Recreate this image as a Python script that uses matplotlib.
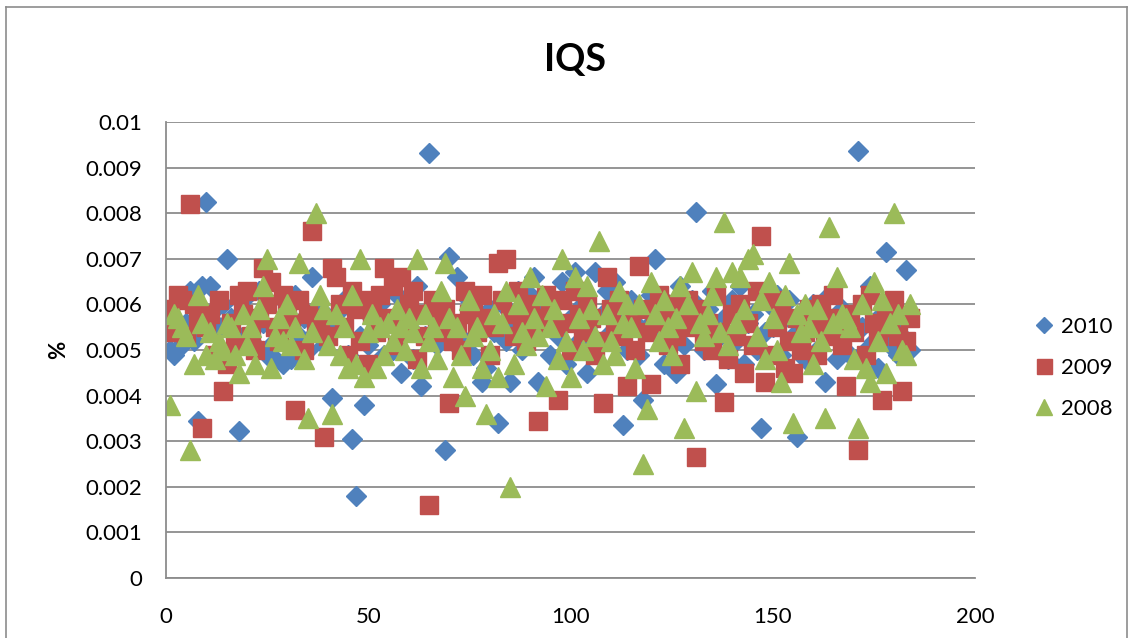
import numpy as np
import matplotlib
matplotlib.use("Agg")
import matplotlib.pyplot as plt
from matplotlib.lines import Line2D

plt.rcParams['font.family'] = ['Lato', 'DejaVu Sans']

iqs_2010 = [
    0.0050, 0.0049, 0.0053, 0.0051, 0.0056, 0.0063, 0.0052, 0.00345, 0.0064, 0.00825,
    0.0064, 0.0059, 0.0055, 0.0060, 0.0070, 0.0057, 0.0054, 0.00323, 0.0061, 0.0058,
    0.0052, 0.0050, 0.0063, 0.0056, 0.0049, 0.0051, 0.0048, 0.0055, 0.0047, 0.0060,
    0.0048, 0.0062, 0.0053, 0.0057, 0.0050, 0.0066, 0.0054, 0.0059, 0.0051, 0.0056,
    0.00395, 0.0058, 0.0055, 0.0061, 0.0049, 0.00305, 0.0018, 0.0053, 0.0038, 0.0051,
    0.0057, 0.0054, 0.0060, 0.0049, 0.0056, 0.0050, 0.0062, 0.0045, 0.0059, 0.0055,
    0.0048, 0.0064, 0.0042, 0.0053, 0.00932, 0.0058, 0.0051, 0.0056, 0.0028, 0.00705,
    0.0055, 0.0066, 0.0050, 0.0052, 0.0061, 0.0049, 0.0057, 0.0043, 0.0046, 0.0059,
    0.0054, 0.0034, 0.0060, 0.0052, 0.0043, 0.0056, 0.0063, 0.0050, 0.0058, 0.0062,
    0.0066, 0.0043, 0.0055, 0.0059, 0.0049, 0.0061, 0.0053, 0.0065, 0.0047, 0.0057,
    0.0067, 0.0052, 0.0060, 0.0045, 0.0056, 0.0067, 0.0051, 0.0058, 0.0063, 0.0054,
    0.0065, 0.0059, 0.00335, 0.0050, 0.0061, 0.0056, 0.0049, 0.0039, 0.0055, 0.0062,
    0.0070, 0.0053, 0.0047, 0.0060, 0.0058, 0.0045, 0.0064, 0.0051, 0.0057, 0.0061,
    0.00803, 0.0055, 0.0050, 0.0059, 0.0063, 0.00425, 0.0053, 0.0057, 0.0048, 0.0061,
    0.0052, 0.0064, 0.0047, 0.0056, 0.0058, 0.0050, 0.00328, 0.0054, 0.0060, 0.0055,
    0.0062, 0.0049, 0.0057, 0.0061, 0.0053, 0.0031, 0.0058, 0.0048, 0.0055, 0.0060,
    0.0050, 0.0057, 0.0043, 0.0062, 0.0054, 0.0048, 0.0059, 0.0053, 0.0049, 0.0056,
    0.00937, 0.0055, 0.0050, 0.0064, 0.0052, 0.0046, 0.0058, 0.00715, 0.0051, 0.0055,
    0.0049, 0.0053, 0.00675, 0.0050,
]
iqs_2009 = [
    0.0059, 0.0054, 0.0062, 0.0061, 0.0053, 0.0082, 0.0060, 0.0057, 0.0033, 0.0055,
    0.0058, 0.0049, 0.0061, 0.0041, 0.0047, 0.0056, 0.0051, 0.0062, 0.0058, 0.0063,
    0.0053, 0.0050, 0.0057, 0.0068, 0.0060, 0.0065, 0.0055, 0.0052, 0.0062, 0.0059,
    0.0056, 0.00368, 0.0061, 0.0050, 0.0058, 0.0076, 0.0054, 0.0057, 0.0031, 0.0053,
    0.0068, 0.0066, 0.0060, 0.0055, 0.0049, 0.0063, 0.0059, 0.0052, 0.0061, 0.0047,
    0.0058, 0.0054, 0.0062, 0.0068, 0.0057, 0.0064, 0.0051, 0.0066, 0.0055, 0.0060,
    0.0063, 0.0048, 0.0058, 0.0053, 0.0016, 0.0061, 0.0057, 0.0054, 0.0059, 0.00383,
    0.0052, 0.0056, 0.0050, 0.0063, 0.0058, 0.0060, 0.0054, 0.0062, 0.0057, 0.0049,
    0.0055, 0.0069, 0.0061, 0.0070, 0.0058, 0.0053, 0.0063, 0.0056, 0.0052, 0.0060,
    0.0054, 0.00345, 0.0057, 0.0062, 0.0059, 0.0055, 0.0039, 0.0061, 0.0056, 0.0050,
    0.0063, 0.0058, 0.0054, 0.0060, 0.0057, 0.0049, 0.0052, 0.00383, 0.0066, 0.0059,
    0.0055, 0.0061, 0.0053, 0.0042, 0.0057, 0.0050, 0.00685, 0.0059, 0.0054, 0.00425,
    0.0058, 0.0062, 0.0056, 0.0051, 0.0060, 0.0053, 0.0047, 0.0057, 0.0061, 0.0055,
    0.00265, 0.0059, 0.0052, 0.0056, 0.0050, 0.0062, 0.0054, 0.00385, 0.0048, 0.0058,
    0.0053, 0.0060, 0.0045, 0.0056, 0.0051, 0.0063, 0.0075, 0.0043, 0.0049, 0.0061,
    0.0055, 0.0058, 0.0046, 0.0052, 0.0045, 0.0057, 0.0050, 0.0054, 0.0059, 0.0056,
    0.0049, 0.0060, 0.0053, 0.0057, 0.0062, 0.0055, 0.0051, 0.0042, 0.0058, 0.0054,
    0.0028, 0.0060, 0.0049, 0.0062, 0.0056, 0.0053, 0.0039, 0.0059, 0.0055, 0.0061,
    0.0053, 0.0041, 0.0052, 0.0057,
]
iqs_2008 = [
    0.0038, 0.0058, 0.0057, 0.0055, 0.0053, 0.0028, 0.0047, 0.0062, 0.0056, 0.0049,
    0.0054, 0.0048, 0.0052, 0.0050, 0.0056, 0.0055, 0.0049, 0.0045, 0.0058, 0.0051,
    0.0055, 0.0047, 0.0059, 0.0064, 0.0070, 0.0046, 0.0053, 0.0057, 0.0052, 0.0060,
    0.0051, 0.0055, 0.0069, 0.0048, 0.0035, 0.0054, 0.0080, 0.0062, 0.0059, 0.0051,
    0.0036, 0.0058, 0.0049, 0.0055, 0.0046, 0.0062, 0.0047, 0.0070, 0.0044, 0.0054,
    0.0058, 0.0046, 0.0055, 0.0049, 0.0056, 0.0052, 0.0059, 0.0055, 0.0050, 0.0057,
    0.0054, 0.0070, 0.0046, 0.0058, 0.0052, 0.0055, 0.0048, 0.0063, 0.0069, 0.0057,
    0.0044, 0.0055, 0.0049, 0.0040, 0.0061, 0.0053, 0.0055, 0.0046, 0.0036, 0.0050,
    0.0058, 0.0044, 0.0056, 0.0063, 0.0020, 0.0047, 0.0060, 0.0054, 0.0051, 0.0066,
    0.0057, 0.0053, 0.0062, 0.0042, 0.0055, 0.0059, 0.0048, 0.0070, 0.0052, 0.0044,
    0.0066, 0.0057, 0.0050, 0.0064, 0.0059, 0.0053, 0.0074, 0.0047, 0.0058, 0.0052,
    0.0049, 0.0063, 0.0056, 0.0060, 0.0055, 0.0046, 0.0060, 0.0025, 0.0037, 0.0065,
    0.0058, 0.0052, 0.0061, 0.0055, 0.0049, 0.0057, 0.0064, 0.0033, 0.0060, 0.0067,
    0.0041, 0.0056, 0.0053, 0.0058, 0.0062, 0.0066, 0.0054, 0.0078, 0.0051, 0.0067,
    0.0056, 0.0066, 0.0059, 0.0070, 0.0071, 0.0053, 0.0061, 0.0048, 0.0065, 0.0057,
    0.0050, 0.0043, 0.0062, 0.0069, 0.0034, 0.0058, 0.0054, 0.0060, 0.0055, 0.0047,
    0.0059, 0.0052, 0.0035, 0.0077, 0.0056, 0.0066, 0.0058, 0.0057, 0.0055, 0.0048,
    0.0033, 0.0060, 0.0046, 0.0043, 0.0065, 0.0052, 0.0061, 0.0045, 0.0056, 0.0080,
    0.0058, 0.0050, 0.0049, 0.0060,
]
obs = np.arange(1, len(iqs_2010) + 1)

series = [
    ("2010", iqs_2010, "D", 10.5, "#4F81BD"),
    ("2009", iqs_2009, "s", 13.5, "#C0504D"),
    ("2008", iqs_2008, "^", 14.5, "#9BBB59"),
]

fig = plt.figure(figsize=(11.34, 6.38), dpi=100)
ax = fig.add_axes([166 / 1134, 60 / 638, (975 - 166) / 1134, (578 - 122) / 638])

for name, vals, mk, ms, col in series:
    ax.plot(obs, vals, linestyle="none", marker=mk, markersize=ms,
            color=col, markeredgecolor=col, label=name)

ax.set_xlim(0, 200)
ax.set_ylim(0, 0.01)
ax.set_xticks([0, 50, 100, 150, 200])
ax.set_yticks(np.arange(0, 0.0101, 0.001))
ax.set_yticklabels(["0", "0.001", "0.002", "0.003", "0.004", "0.005",
                    "0.006", "0.007", "0.008", "0.009", "0.01"])
ax.tick_params(axis="both", length=0, labelsize=16)
ax.tick_params(axis="x", pad=21)
ax.tick_params(axis="y", pad=17)
ax.yaxis.grid(True, color="#8c8c8c", linewidth=1.3)
ax.set_axisbelow(True)
for s in ["top", "right"]:
    ax.spines[s].set_visible(False)
for s in ["left", "bottom"]:
    ax.spines[s].set_color("#8c8c8c")
    ax.spines[s].set_linewidth(1.3)

ax.set_ylabel("%", fontsize=16, fontweight="bold", labelpad=12)
fig.text(575 / 1134, 1 - 60 / 638, "IQS", fontsize=27, fontweight="bold",
         ha="center", va="center")

handles = [Line2D([], [], linestyle="none", marker=mk, color=col,
                  markersize=ms * 0.8, label=name)
           for name, vals, mk, ms, col in series]
fig.legend(handles=handles, loc="center left",
           bbox_to_anchor=(1011 / 1134, 1 - 368 / 638), frameon=False,
           fontsize=16, handletextpad=0.15, labelspacing=0.95, handlelength=1.2)

# chart area border
border = dict(color="#8c8c8c", linewidth=1.2, transform=fig.transFigure)
fig.add_artist(Line2D([6 / 1134, 6 / 1134], [0, 1 - 7 / 638], **border))
fig.add_artist(Line2D([6 / 1134, 1127 / 1134], [1 - 7 / 638, 1 - 7 / 638], **border))
fig.add_artist(Line2D([1127 / 1134, 1127 / 1134], [0, 1 - 7 / 638], **border))

fig.savefig("out.png", dpi=100)
